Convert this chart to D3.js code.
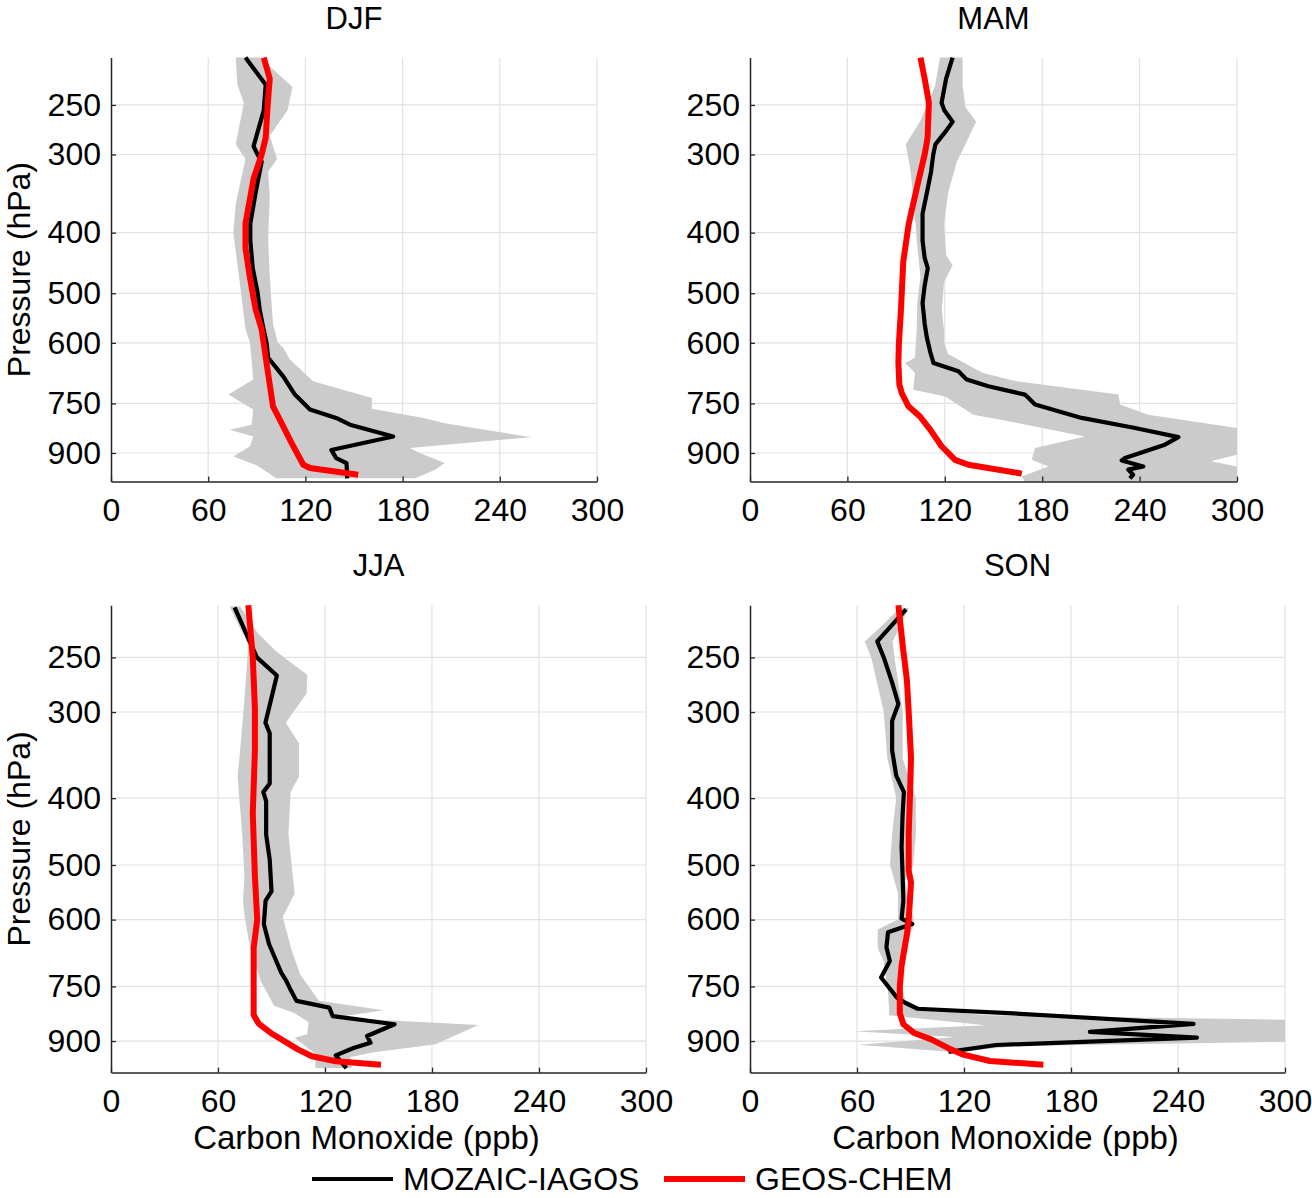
<!DOCTYPE html>
<html>
<head>
<meta charset="utf-8">
<script src="https://cdn.jsdelivr.net/npm/d3@7"></script>
<style>
  body { margin: 0; background: #fff; }
  svg { display: block; font-family: "Liberation Sans", Arial, Helvetica, sans-serif; }
</style>
</head>
<body>
<svg id="chart" width="1312" height="1198"></svg>
<script>
var seasons = ['DJF', 'MAM', 'JJA', 'SON'];
var pressureTicks = [250, 300, 400, 500, 600, 750, 900];
var coTicks = [0, 60, 120, 180, 240, 300];
var legendLabels = ['MOZAIC-IAGOS', 'GEOS-CHEM'];

// every point is [pressure (hPa), carbon monoxide (ppb)]
var djfObs = [[210,83],[232,95.5],[255,94.3],[291,88],[300,90.5],[308,93],[345,89.3],[387,86],[412,86],
  [456,87.5],[499,90.5],[531,91.8],[573,94.3],[600,96],[634,97],[679,106.3],[726,113.5],[767,122.8],
  [791,139],[811,147.5],[847,174.2],[890,136],[917,139],[934,145.4],[988,145.8]];
var djfModel = [[210,94.3],[227,98],[248,96.8],[282,95.5],[300,93],[328,88],[387,83],[423,83],[468,85.5],
  [531,89.3],[571,93],[646,96],[758,100],[816,106.3],[868,111.5],[940,118.7],[951,122.8],[975,152.6]];
var djfLow = [[210,77],[232,78],[248,82],[289,77],[305,83],[340,79],[360,77],[400,75.5],[470,79],[570,83],
  [600,85.8],[687,87.8],[726,72.4],[767,87.8],[811,86.8],[826,73.4],[847,87.8],[878,85.8],[912,75.5],
  [942,90],[988,102]];
var djfHigh = [[210,92],[234,112],[255,109],[280,98],[305,102.5],[320,97],[350,98],[410,97],[470,98],
  [560,100],[600,103],[611,106.3],[638,110.4],[691,124.8],[735,161],[765,161],[791,193],[806,205],
  [849,259.5],[884,184.5],[900,190.6],[934,206],[957,200],[988,188]];

var mamObs = [[210,124.8],[227,120.8],[248,118],[255,119.7],[266,124.8],[275,120.8],[289,114.2],[300,112.9],
  [320,111.5],[345,109],[373,106.3],[412,106.3],[439,107.6],[456,109.5],[486,107.6],[518,106.3],
  [559,107.6],[588,108.9],[620,111],[646,113],[666,128.4],[687,133.5],[704,146.8],[726,169.4],
  [753,175.6],[791,204.3],[821,237.2],[849,263.9],[873,255.6],[917,231],[925,229],[946,242.3],
  [957,233],[975,236],[988,234]];
var mamModel = [[210,105],[227,107.6],[248,110.2],[282,109.4],[300,107.6],[332,103.6],[387,97.8],[445,94.4],
  [531,93],[603,91.7],[646,91.4],[700,92],[722,93.5],[758,97.6],[787,104.7],[826,111],[878,118],
  [923,126.3],[940,134.5],[971,167.4]];
var mamLow = [[210,117],[233,114],[265,105],[289,96],[320,99],[360,101],[420,103],[470,105],[520,103],
  [571,102.7],[634,101.6],[646,95.5],[670,101.6],[713,100.6],[731,120.2],[782,137.6],[801,159.2],
  [847,206.4],[884,175.6],[923,173.5],[946,183.8],[981,167.4],[1000,169.4]];
var mamHigh = [[210,131],[233,131],[252,132.7],[266,139.3],[289,132.7],[308,127.4],[345,122.1],[387,119.5],
  [434,120.8],[451,124.8],[480,119.5],[531,118.2],[573,119.5],[600,119.5],[625,122],[670,143],
  [691,164],[726,227],[753,228],[782,245.4],[821,300],[906,300],[928,284],[946,300],[1000,300]];

var jjaObs = [[211.5,69.3],[250,81.8],[265.6,93],[286,90],[311,86.6],[322,89],[381,89],[392,85.4],[404,87],
  [452,87],[491,89],[546,90],[563,86.7],[609,85.7],[651,88.6],[716,95.4],[736,98.3],[761,101],
  [787,104],[805,122.4],[828,124.3],[851,159],[885,143.6],[905,145.5],[921,136],[944,126],[985,132]];
var jjaModel = [[210,77],[250,79.5],[296,80.7],[341,80.7],[421,79.5],[520,80.7],[600,82],[660,80],[825,80],
  [849,82.8],[876,89.6],[926,105],[947,112.7],[963,126],[974,151.4]];
var jjaLow = [[211,66.5],[240,77],[288,74.8],[341,72.4],[372,71],[452,73.6],[520,74.8],[563,74],[595,75],
  [660,78],[737,84],[800,91.5],[820,103],[845,110.8],[880,110],[890,103],[940,114.6],[985,114.6]];
var jjaHigh = [[211,72.4],[230,82],[245,92.5],[265,110],[282,109.7],[311,98],[333,105.4],[372,105.4],
  [392,100.7],[452,99.5],[520,102],[550,103],[595,96.3],[660,101],[720,106],[787,116.6],[812,153],
  [832,125],[853,206],[910,182],[935,146.5],[950,134],[985,135]];

var sonObs = [[213,87.5],[237,71.4],[250,75],[272,79.7],[292,83.2],[309,79.7],[341,79.7],[371,82],[392,86.3],
  [421,85.6],[471,85],[520,85.6],[563,86],[598,85],[609,91],[626,77.4],[658,76.5],[689,78.4],
  [728,73.5],[778,82.3],[792,87],[808,94],[819,142],[850,248.7],[873,190.6],[890,250.6],[912,138],
  [933,111.3]];
var sonModel = [[210,83.2],[240,85.6],[270,88],[300,89],[350,90.3],[390,89.8],[450,89],[510,89],[530,90.3],
  [600,89],[630,88],[700,85],[750,84],[820,84],[851,86],[876,92],[895,101.6],[921,111],[941,119],
  [962,134.5],[974,164.5]];
var sonLow = [[212,84],[225,74],[237,64.3],[250,68],[300,75],[350,77],[400,82],[450,79.7],[500,78.5],
  [550,83],[600,83],[620,71.6],[660,71.6],[690,75],[765,77.4],[810,78],[826,78],[854,132],[871,58],
  [888,115],[911,61],[933,112]];
var sonHigh = [[212,89],[237,80],[250,81],[300,85.6],[350,85.6],[400,93],[450,93],[500,91.5],[526,87],
  [563,89],[600,92],[610,92],[660,87],[700,85],[750,85],[800,88],[810,96],[826,134],[838,300],
  [902,300],[915,150],[933,117]];

var obsSeries = [djfObs, mamObs, jjaObs, sonObs];
var modelSeries = [djfModel, mamModel, jjaModel, sonModel];
var lowSeries = [djfLow, mamLow, jjaLow, sonLow];
var highSeries = [djfHigh, mamHigh, jjaHigh, sonHigh];

// panel boxes in pixels
var panels = [
  { left: 111, right: 597, top: 57.6, bottom: 481.6, ylabel: true, xlabel: false },
  { left: 750, right: 1237, top: 57.6, bottom: 481.6, ylabel: false, xlabel: false },
  { left: 111, right: 646, top: 605.2, bottom: 1072.6, ylabel: true, xlabel: true },
  { left: 750, right: 1285, top: 605.2, bottom: 1072.6, ylabel: false, xlabel: true }
];

var svg = d3.select('#chart');
var axisColor = '#262626';

panels.forEach(function(pn, i) {
  var x = d3.scaleLinear().domain([0, 300]).range([pn.left, pn.right]);
  var y = d3.scaleLog().domain([210, 1000]).range([pn.top, pn.bottom]);
  var g = svg.append('g').attr('class', 'panel');

  // grid
  g.selectAll('.vgrid')
    .data(coTicks.slice(1))
    .enter().append('line')
    .attr('x1', function(d) { return x(d); })
    .attr('x2', function(d) { return x(d); })
    .attr('y1', pn.top)
    .attr('y2', pn.bottom)
    .attr('stroke', '#e2e2e2')
    .attr('stroke-width', 1.2);

  g.selectAll('.hgrid')
    .data(pressureTicks)
    .enter().append('line')
    .attr('x1', pn.left)
    .attr('x2', pn.right)
    .attr('y1', function(d) { return y(d); })
    .attr('y2', function(d) { return y(d); })
    .attr('stroke', '#e2e2e2')
    .attr('stroke-width', 1.2);

  var line = d3.line()
    .x(function(d) { return x(d[1]); })
    .y(function(d) { return y(d[0]); });

  // spread band: low edge down, high edge back up
  var band = lowSeries[i].concat(highSeries[i].slice().reverse());
  g.append('path')
    .attr('d', line(band) + 'Z')
    .attr('fill', '#cbcbcb')
    .attr('stroke', 'none');

  g.append('path')
    .attr('d', line(obsSeries[i]))
    .attr('fill', 'none')
    .attr('stroke', '#000')
    .attr('stroke-width', 4.2)
    .attr('stroke-linejoin', 'round');

  g.append('path')
    .attr('d', line(modelSeries[i]))
    .attr('fill', 'none')
    .attr('stroke', '#ff0000')
    .attr('stroke-width', 6)
    .attr('stroke-linejoin', 'round');

  // axes, ticks pointing inward
  var xAxis = g.append('g')
    .attr('transform', 'translate(0,' + pn.bottom + ')')
    .call(d3.axisBottom(x).tickValues(coTicks).tickSizeInner(-5).tickSizeOuter(0).tickPadding(17));

  var yAxis = g.append('g')
    .attr('transform', 'translate(' + pn.left + ',0)')
    .call(d3.axisLeft(y).tickValues(pressureTicks).tickFormat(d3.format('d'))
      .tickSizeInner(-5).tickSizeOuter(0).tickPadding(10));

  [xAxis, yAxis].forEach(function(ax) {
    ax.attr('font-family', null).attr('font-size', null);
    ax.select('.domain').attr('stroke', axisColor).attr('stroke-width', 1.5);
    ax.selectAll('.tick line').attr('stroke', axisColor).attr('stroke-width', 1.3);
    ax.selectAll('.tick text').attr('fill', '#000').style('font-size', '32px');
  });

  // season title
  g.append('text')
    .attr('x', (pn.left + pn.right) / 2)
    .attr('y', pn.top - 29)
    .attr('text-anchor', 'middle')
    .style('font-size', '31px')
    .text(seasons[i]);

  if (pn.ylabel) {
    g.append('text')
      .attr('transform', 'translate(30,' + (pn.top + pn.bottom) / 2 + ') rotate(-90)')
      .attr('text-anchor', 'middle')
      .style('font-size', '32px')
      .text('Pressure (hPa)');
  }

  if (pn.xlabel) {
    g.append('text')
      .attr('x', (pn.left + pn.right) / 2 - 12)
      .attr('y', 1149)
      .attr('text-anchor', 'middle')
      .style('font-size', '33px')
      .text('Carbon Monoxide (ppb)');
  }
});

// legend
var legendItems = [
  { color: '#000', width: 4.2, x: 312, label: legendLabels[0] },
  { color: '#ff0000', width: 6, x: 664, label: legendLabels[1] }
];

var legend = svg.append('g').attr('class', 'legend');
legendItems.forEach(function(d) {
  legend.append('line')
    .attr('x1', d.x)
    .attr('x2', d.x + 81)
    .attr('y1', 1179)
    .attr('y2', 1179)
    .attr('stroke', d.color)
    .attr('stroke-width', d.width);
  legend.append('text')
    .attr('x', d.x + 91)
    .attr('y', 1190)
    .style('font-size', '32px')
    .text(d.label);
});
</script>
</body>
</html>
